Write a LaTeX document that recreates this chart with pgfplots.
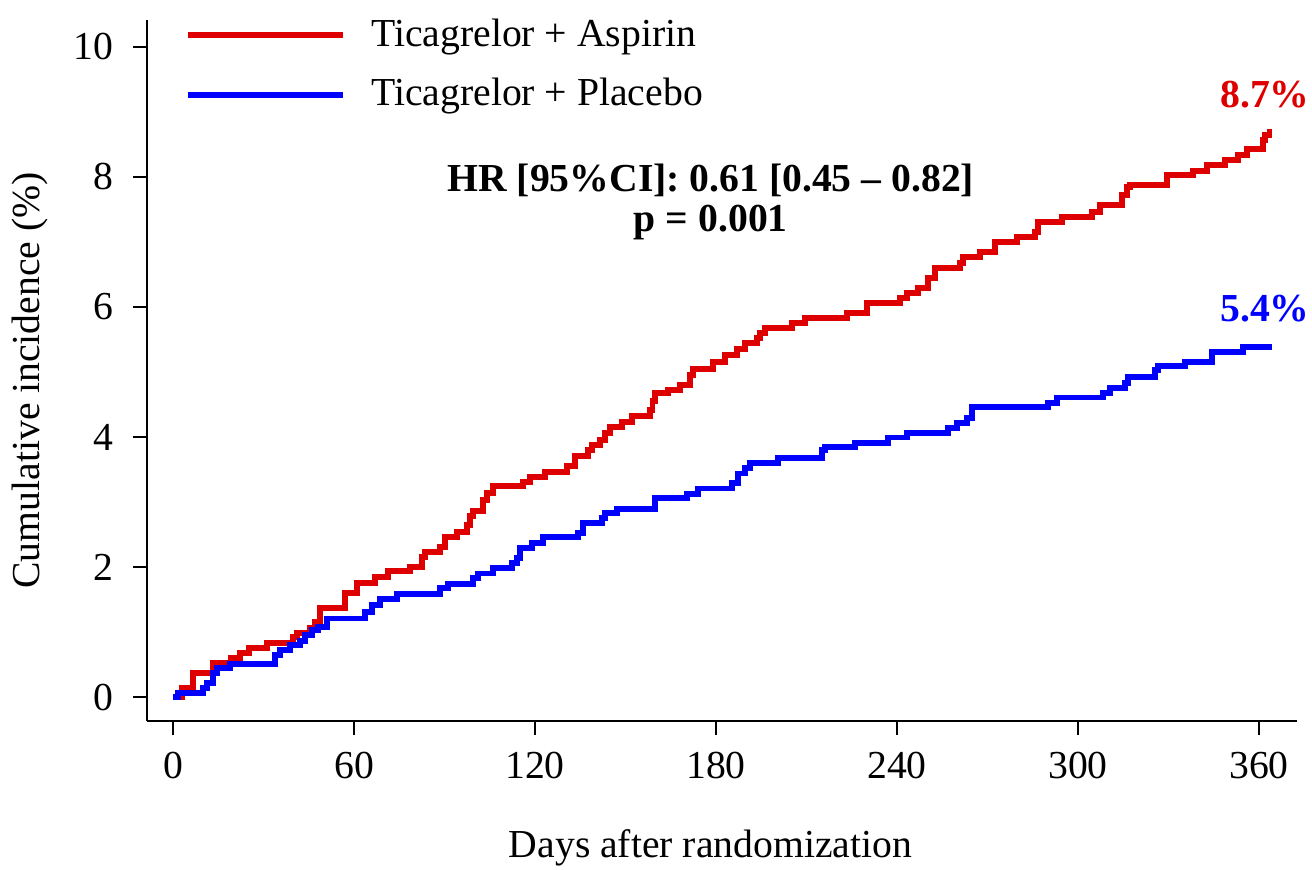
\documentclass[border=0pt]{standalone}
\usepackage{fontspec}
\setmainfont{Liberation Serif}
\usepackage{pgfplots}
\usepackage{pgfplotstable}
\pgfplotsset{compat=1.18}
\definecolor{kmred}{RGB}{222,0,0}
\definecolor{kmblue}{RGB}{0,0,255}

% Ticagrelor + Aspirin (step points: day, cumulative incidence %)
\pgfplotstableread{
day inc
0 0
3 0.14
6.6 0.37
13.3 0.52
19.2 0.60
22.2 0.68
25.2 0.75
31.2 0.83
39.8 0.92
41.1 0.98
45.5 1.07
47 1.15
48.7 1.37
57 1.60
61 1.75
67 1.85
71.3 1.94
78.6 2.00
82.5 2.15
83.5 2.23
88.5 2.31
90.2 2.46
94.1 2.54
97.4 2.65
98.4 2.78
99.4 2.86
102.8 3.03
104 3.14
106 3.25
116 3.31
118.3 3.38
123.3 3.46
130.6 3.55
133.2 3.71
137.6 3.80
138.9 3.88
141.5 3.95
143.2 4.06
144.8 4.15
148.8 4.23
152.1 4.32
158.1 4.42
159 4.55
159.8 4.68
164.1 4.72
168 4.80
171.4 4.95
172.4 5.05
179 5.15
183 5.26
187 5.35
189.6 5.45
193.6 5.52
194.6 5.60
196.2 5.68
205.2 5.75
209.5 5.83
223.4 5.91
230 6.06
241 6.14
243.3 6.22
246.9 6.29
250.2 6.45
252.6 6.60
260.9 6.68
261.8 6.77
267.5 6.85
272.5 7.00
279.7 7.08
285.7 7.15
286.7 7.31
294.7 7.38
304.6 7.46
307.3 7.57
314.6 7.72
316.2 7.85
317.2 7.88
329.5 8.03
338.1 8.09
342.7 8.18
348.7 8.26
353 8.34
356 8.43
361.3 8.57
362 8.65
363.5 8.69
364.3 8.69
}\aspirin

% Ticagrelor + Placebo
\pgfplotstableread{
day inc
0 0
1.7 0.06
10 0.14
11.3 0.22
13.3 0.37
14.6 0.45
18.9 0.51
33.8 0.65
35.5 0.72
38.8 0.80
42.1 0.86
43.8 0.95
46.1 1.03
48 1.08
51 1.21
63.6 1.31
66 1.42
68.6 1.51
74.2 1.58
88.5 1.68
91.1 1.74
99.4 1.83
101.1 1.90
106 1.98
112.4 2.06
114 2.14
115 2.29
119 2.37
122.6 2.46
134.2 2.52
135.9 2.68
142.2 2.75
143.2 2.83
147.2 2.89
159.8 3.06
170.4 3.12
174 3.21
185.3 3.29
187.3 3.44
189.6 3.52
191.2 3.60
200.5 3.68
215.1 3.80
216.1 3.85
226 3.91
237 3.99
243.3 4.06
256.9 4.14
259.9 4.22
263.2 4.29
264.8 4.46
290 4.52
293 4.61
308.3 4.68
310.6 4.75
315.5 4.83
316.5 4.92
325.5 5.03
326.5 5.09
335.4 5.15
344.4 5.31
354.7 5.38
364.3 5.38
}\placebo

\begin{document}
\begin{tikzpicture}
\useasboundingbox (-44.1pt,-44.4pt) rectangle (349.5pt,216.3pt);
\begin{axis}[
  scale only axis, width=345pt, height=210.3pt,
  xmin=-8.62, xmax=372.6, ymin=-0.369, ymax=10.415,
  clip=false,
  axis x line*=bottom, axis y line*=left,
  axis line style={line width=0.6pt, -},
  tick align=outside, major tick length=4.2pt,
  tick style={line width=0.6pt, black},
  xtick={0,60,...,360}, ytick={0,2,...,10},
  font=\fontsize{11.9}{14}\selectfont,
  /pgf/number format/assume math mode=true,
  ticklabel style={font=\fontsize{11.9}{14}\selectfont},
  yticklabel style={xshift=-2.3pt},
  xticklabel style={yshift=-1.7pt},
  xlabel={Days after randomization},
  ylabel={Cumulative incidence (\%)},
  xlabel style={at={(rel axis cs:0.49,-0.181)}, anchor=center},
  ylabel style={at={(rel axis cs:-0.1017,0.486)}, anchor=center},
  legend style={at={(rel axis cs:0.033,1.003)}, anchor=north west,
    draw=none, fill=none, inner sep=0pt, row sep=8.2pt, column sep=7.5pt,
    nodes={inner sep=0pt, font=\fontsize{11.9}{14}\selectfont}},
  legend cell align=left,
  legend image code/.code={\draw[#1] (0pt,0pt) -- (46.5pt,0pt);},
]
\addplot[const plot, kmred, line width=1.7pt] table[x=day, y=inc] {\aspirin};
\addlegendentry{Ticagrelor + Aspirin}
\addplot[const plot, kmblue, line width=1.7pt] table[x=day, y=inc] {\placebo};
\addlegendentry{Ticagrelor + Placebo}

\node[font=\fontsize{11.9}{12}\selectfont\bfseries, align=center]
  at (axis cs:178.3,7.62) {HR [95\%CI]: 0.61 [0.45 -- 0.82]\\p = 0.001};
\node[font=\fontsize{11.9}{14}\selectfont\bfseries, text=kmred] at (axis cs:362,9.26) {8.7\%};
\node[font=\fontsize{11.9}{14}\selectfont\bfseries, text=kmblue] at (axis cs:362,5.97) {5.4\%};
\end{axis}
\end{tikzpicture}
\end{document}
